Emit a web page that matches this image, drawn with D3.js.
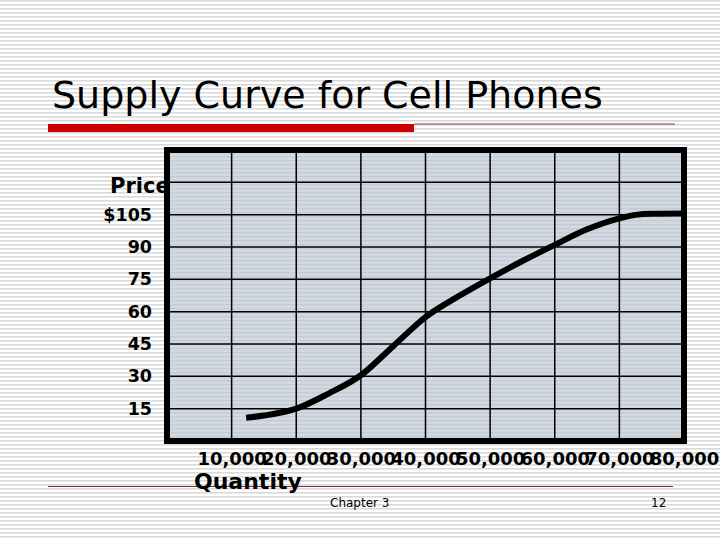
<!DOCTYPE html>
<html>
<head>
<meta charset="utf-8">
<script src="https://cdn.jsdelivr.net/npm/d3@7"></script>
<style>
  html, body { margin: 0; padding: 0; background: #fff; }
  svg { display: block; font-family: "DejaVu Sans", Verdana, sans-serif; }
</style>
</head>
<body>
<svg></svg>
<script>
// data
const quantity = [12250, 15000, 20000, 25000, 30000, 35000, 40000, 45000, 50000, 55000, 60000, 65000, 70000, 72500, 75000, 80000];
const price    = [10.8, 11.8, 15, 22, 30.5, 44, 57.5, 67, 75.5, 83.5, 91, 98.2, 103.3, 104.9, 105.4, 105.5];

const priceTicks  = [15, 30, 45, 60, 75, 90, 105];
const priceLabels = ["15", "30", "45", "60", "75", "90", "$105"];
const qtyTicks    = [10000, 20000, 30000, 40000, 50000, 60000, 70000, 80000];
const qtyLabels   = ["10,000", "20,000", "30,000", "40,000", "50,000", "60,000", "70,000", "80,000"];

const title = "Supply Curve for Cell Phones";

const W = 720, H = 540;
const svg = d3.select("svg").attr("width", W).attr("height", H);

// striped slide background
const defs = svg.append("defs");
const bg = defs.append("pattern").attr("id", "stripes")
  .attr("width", 8).attr("height", 4).attr("patternUnits", "userSpaceOnUse");
bg.append("rect").attr("width", 8).attr("height", 4).attr("fill", "#ffffff");
bg.append("rect").attr("y", 0).attr("width", 8).attr("height", 1.6).attr("fill", "#d9d9d9");

const pb = defs.append("pattern").attr("id", "plotStripes")
  .attr("width", 8).attr("height", 4).attr("patternUnits", "userSpaceOnUse");
pb.append("rect").attr("width", 8).attr("height", 4).attr("fill", "#d3d9e1");
pb.append("rect").attr("y", 0).attr("width", 8).attr("height", 1.4).attr("fill", "#c5ccd6");

svg.append("rect").attr("width", W).attr("height", H).attr("fill", "url(#stripes)");

// title + rules
svg.append("text").attr("x", 52).attr("y", 108)
  .attr("font-size", 38).attr("fill", "#000").text(title);
svg.append("rect").attr("x", 48).attr("y", 124).attr("width", 366).attr("height", 8).attr("fill", "#cc0000");
svg.append("line").attr("x1", 414).attr("x2", 675).attr("y1", 124).attr("y2", 124)
  .attr("stroke", "#a03030").attr("stroke-width", 1);
svg.append("line").attr("x1", 48).attr("x2", 673).attr("y1", 486.5).attr("y2", 486.5)
  .attr("stroke", "#8b2a2a").attr("stroke-width", 1);

// scales
const x = d3.scaleLinear().domain([0, 80000]).range([167, 684]);
const y = d3.scaleLinear().domain([0, 135]).range([441, 150]);

// axis titles (Price sits under the frame)
svg.append("text").attr("x", 110).attr("y", 193)
  .attr("font-size", 21).attr("font-weight", "bold").text("Price");
svg.append("text").attr("x", 194).attr("y", 489)
  .attr("font-size", 22).attr("font-weight", "bold").text("Quantity");

// plot area
svg.append("rect")
  .attr("x", x(0)).attr("y", y(135))
  .attr("width", x(80000) - x(0)).attr("height", y(0) - y(135))
  .attr("fill", "url(#plotStripes)");

// grid
const grid = svg.append("g").attr("stroke", "#000").attr("stroke-width", 1.5);
grid.selectAll(".v").data(qtyTicks.slice(0, -1)).join("line")
  .attr("x1", d => x(d)).attr("x2", d => x(d))
  .attr("y1", y(135)).attr("y2", y(0));
grid.selectAll(".h").data([15, 30, 45, 60, 75, 90, 105, 120]).join("line")
  .attr("x1", x(0)).attr("x2", x(80000))
  .attr("y1", d => y(d)).attr("y2", d => y(d));

// supply curve
const line = d3.line()
  .x((d, i) => x(quantity[i]))
  .y(d => y(d))
  .curve(d3.curveMonotoneX);
svg.append("path").datum(price)
  .attr("d", line)
  .attr("fill", "none").attr("stroke", "#000").attr("stroke-width", 6);

// frame
svg.append("rect")
  .attr("x", x(0)).attr("y", y(135))
  .attr("width", x(80000) - x(0)).attr("height", y(0) - y(135))
  .attr("fill", "none").attr("stroke", "#000").attr("stroke-width", 6);

// tick labels
const yAxis = svg.append("g").attr("transform", `translate(${x(0)},0)`)
  .call(d3.axisLeft(y).tickValues(priceTicks)
    .tickFormat((d, i) => priceLabels[i]).tickSize(0).tickPadding(15));
yAxis.select(".domain").remove();
yAxis.selectAll("text").attr("font-size", 17.5).attr("font-weight", "bold")
  .attr("font-family", "DejaVu Sans").attr("fill", "#000");

const xAxis = svg.append("g").attr("transform", `translate(0,${y(0)})`)
  .call(d3.axisBottom(x).tickValues(qtyTicks)
    .tickFormat((d, i) => qtyLabels[i]).tickSize(0).tickPadding(11));
xAxis.select(".domain").remove();
xAxis.selectAll("text").attr("font-size", 18).attr("font-weight", "bold")
  .attr("font-family", "DejaVu Sans").attr("fill", "#000");

// footer
svg.append("text").attr("x", 330).attr("y", 507).attr("font-size", 12).text("Chapter 3");
svg.append("text").attr("x", 651).attr("y", 507).attr("font-size", 12).text("12");
</script>
</body>
</html>
